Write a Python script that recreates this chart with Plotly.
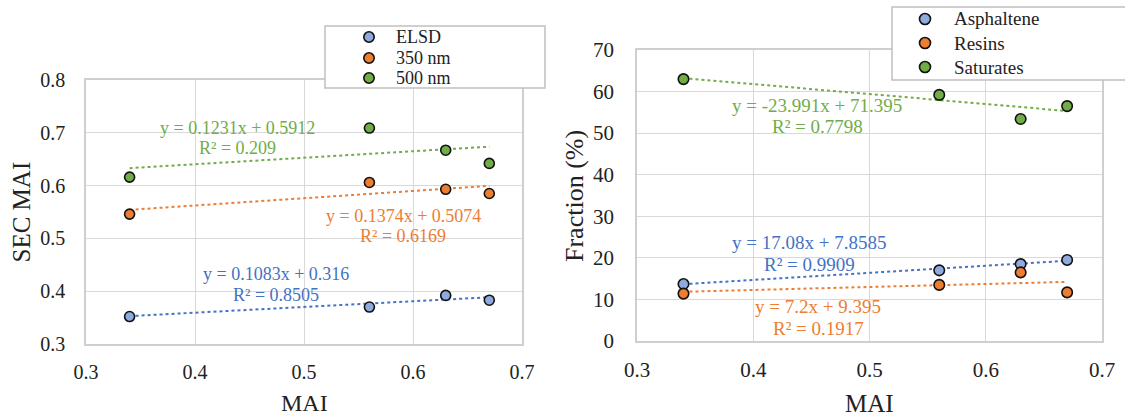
import plotly.graph_objects as go

# ---------------- data ----------------
mai = [0.34, 0.56, 0.63, 0.67]

# left panel: SEC MAI
left_names = ["ELSD", "350 nm", "500 nm"]
elsd = [0.352, 0.370, 0.392, 0.383]
nm350 = [0.546, 0.606, 0.593, 0.585]
nm500 = [0.616, 0.709, 0.667, 0.642]
left_slopes = [0.1083, 0.1374, 0.1231]
left_intercepts = [0.316, 0.5074, 0.5912]
left_eq = ["y = 0.1083x + 0.316", "y = 0.1374x + 0.5074", "y = 0.1231x + 0.5912"]
left_r2 = ["R² = 0.8505", "R² = 0.6169", "R² = 0.209"]

# right panel: Fraction (%)
right_names = ["Asphaltene", "Resins", "Saturates"]
asph = [13.7, 17.0, 18.5, 19.5]
resins = [11.4, 13.5, 16.5, 11.7]
satur = [63.0, 59.2, 53.4, 56.5]
right_slopes = [17.08, 7.2, -23.991]
right_intercepts = [7.8585, 9.395, 71.395]
right_eq = ["y = 17.08x + 7.8585", "y = 7.2x + 9.395", "y = -23.991x + 71.395"]
right_r2 = ["R² = 0.9909", "R² = 0.1917", "R² = 0.7798"]

x_ticks = [0.3, 0.4, 0.5, 0.6, 0.7]
left_yticks = [0.3, 0.4, 0.5, 0.6, 0.7, 0.8]
right_yticks = [0, 10, 20, 30, 40, 50, 60, 70]

# ---------------- style ----------------
FONT = "Liberation Serif"
fills = ["#8FAADC", "#ED7D31", "#70AD47"]
lines = ["#4472C4", "#ED7D31", "#70AD47"]
TXT = "#222222"
GRID = "#D9D9D9"
EDGE = "#111111"

fig = go.Figure()

def add_panel(xa, ya, series, names, slopes, intercepts, msize):
    # trendlines first (under markers)
    for i, (s, b) in enumerate(zip(slopes, intercepts)):
        xs = [mai[0], mai[-1]]
        fig.add_trace(go.Scatter(
            x=xs, y=[s * v + b for v in xs], mode="lines",
            line=dict(color=lines[i], width=2, dash="dot"),
            xaxis=xa, yaxis=ya, showlegend=False, hoverinfo="skip"))
    for i, (ys, nm) in enumerate(zip(series, names)):
        fig.add_trace(go.Scatter(
            x=mai, y=ys, mode="markers", name=nm, showlegend=False,
            marker=dict(size=msize, color=fills[i], line=dict(color=EDGE, width=1.6)),
            xaxis=xa, yaxis=ya))

add_panel("x", "y", [elsd, nm350, nm500], left_names, left_slopes, left_intercepts, 10)
add_panel("x2", "y2", [asph, resins, satur], right_names, right_slopes, right_intercepts, 10.5)

W, H = 1125, 419
# pixel boxes of plot areas
L = dict(x0=86, x1=522, y0=80, y1=344)
R = dict(x0=637, x1=1102, y0=50, y1=341)

def xdom(b):
    return [b["x0"] / W, b["x1"] / W]

def ydom(b):
    return [1 - b["y1"] / H, 1 - b["y0"] / H]

def axis_common(fs):
    return dict(
        showgrid=True, gridcolor=GRID, gridwidth=1.3,
        showline=True, mirror=True, linecolor="#CFCFCF", linewidth=1.5,
        zeroline=False, ticks="", tickfont=dict(family=FONT, size=fs, color=TXT),
    )

fig.update_layout(
    width=W, height=H,
    margin=dict(l=0, r=0, t=0, b=0, autoexpand=False),
    paper_bgcolor="white", plot_bgcolor="white",
    font=dict(family=FONT, color=TXT),
    showlegend=False,
    xaxis=dict(domain=xdom(L), anchor="y", range=[0.3, 0.7], tickvals=x_ticks,
               ticktext=[f"{v:.1f}" for v in x_ticks], ticklabelstandoff=9, **axis_common(20)),
    yaxis=dict(domain=ydom(L), anchor="x", range=[0.3, 0.8], tickvals=left_yticks,
               ticktext=[f"{v:.1f}" for v in left_yticks], ticklabelstandoff=15, **axis_common(20)),
    xaxis2=dict(domain=xdom(R), anchor="y2", range=[0.3, 0.7], tickvals=x_ticks,
                ticktext=[f"{v:.1f}" for v in x_ticks], ticklabelstandoff=9, **axis_common(21)),
    yaxis2=dict(domain=ydom(R), anchor="x2", range=[0, 70], tickvals=right_yticks,
                ticktext=[str(v) for v in right_yticks], ticklabelstandoff=17, **axis_common(21)),
)

annots = []
shapes = []

def ann(text, px, py, size, color, angle=0, xanchor="center"):
    annots.append(dict(text=text, x=px / W, y=1 - py / H, xref="paper", yref="paper",
                       xanchor=xanchor, yanchor="middle", showarrow=False, textangle=angle,
                       font=dict(family=FONT, size=size, color=color)))

# axis titles
ann("MAI", (L["x0"] + L["x1"]) / 2, 403, 24, TXT)
ann("MAI", (R["x0"] + R["x1"]) / 2, 403, 25, TXT)
ann("SEC MAI", 21.5, 212, 25, TXT, -90)
ann("Fraction (%)", 575, 196, 26, TXT, -90)

# equation labels (pixel centres)
left_eq_pos = [(276, 274, 295), (403, 216, 236), (237, 128, 148)]
right_eq_pos = [(809, 242, 264), (818, 306, 328), (817, 106, 127)]
for i in range(3):
    cx, y1, y2 = left_eq_pos[i]
    ann(left_eq[i], cx, y1, 18, lines[i])
    ann(left_r2[i], cx, y2, 18, lines[i])
    cx, y1, y2 = right_eq_pos[i]
    ann(right_eq[i], cx, y1, 19, lines[i])
    ann(right_r2[i], cx, y2, 19, lines[i])

# legends (box, symbols, labels)
def legend(names, box, sym_x, text_x, rows, size, r):
    bx0, by0, bx1, by1 = box
    shapes.append(dict(type="rect", xref="paper", yref="paper",
                       x0=bx0 / W, x1=bx1 / W, y0=1 - by1 / H, y1=1 - by0 / H,
                       line=dict(color="#C0C0C0", width=1.5), fillcolor="white", layer="above"))
    for i, nm in enumerate(names):
        cy = rows[i]
        shapes.append(dict(type="circle", xref="paper", yref="paper",
                           x0=(sym_x - r) / W, x1=(sym_x + r) / W,
                           y0=1 - (cy + r) / H, y1=1 - (cy - r) / H,
                           line=dict(color=EDGE, width=1.6), fillcolor=fills[i], layer="above"))
        ann(nm, text_x, cy, size, TXT, xanchor="left")

legend(left_names, (325, 26, 545, 88), 369, 394, [37, 58, 78], 18, 5.2)
legend(right_names, (892, 7, 1135, 80), 925, 952, [19, 43, 67], 19, 5.5)

fig.update_layout(annotations=annots, shapes=shapes)
fig.write_html("out.html")
